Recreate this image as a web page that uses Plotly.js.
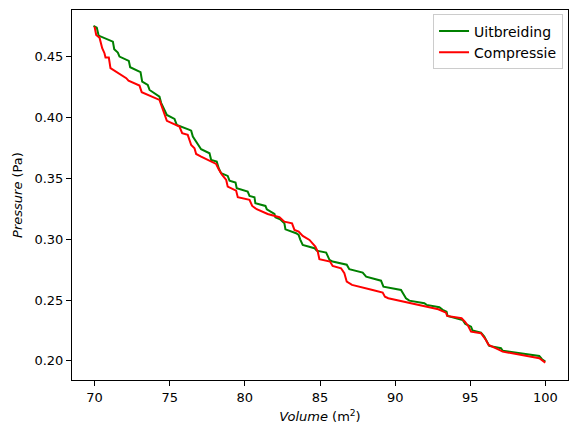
<!DOCTYPE html>
<html>
<head>
<meta charset="utf-8">
<script src="https://cdn.plot.ly/plotly-3.0.1.min.js"></script>
<style>
  body { margin: 0; background: #fff; }
  #plotlyChart { width: 578px; height: 438px; }
</style>
</head>
<body>
<div id="plotlyChart"></div>
<script>
// Uitbreiding (expansion)
let expVolume = [
  69.93, 70.15, 70.27, 71.22, 71.31, 71.55, 71.66, 72.28, 72.37, 73.06,
  73.17, 73.54, 73.66, 74.32, 74.43, 74.81, 75.32, 75.47, 76.32, 76.43,
  76.54, 76.98, 77.09, 77.65, 77.76, 78.13, 78.26, 78.42, 78.86, 78.98,
  79.38, 79.46, 80.19, 80.31, 80.64, 80.70, 81.37, 81.46, 81.97, 82.03,
  82.35, 82.63, 82.70, 83.41, 83.58, 83.68, 83.85, 84.63, 84.78, 85.41,
  85.63, 85.84, 86.78, 86.95, 87.84, 88.07, 89.06, 89.22, 89.50, 90.39,
  90.55, 90.72, 90.94, 91.94, 92.09, 92.94, 93.16, 93.42, 93.49, 94.49,
  94.67, 95.05, 95.15, 95.71, 95.93, 96.15, 96.26, 97.04, 97.15, 99.59,
  99.77, 99.99,
];
let expPressure = [
  0.4752, 0.4738, 0.4673, 0.4623, 0.4561, 0.4533, 0.4500, 0.4465, 0.4413, 0.4372,
  0.4295, 0.4267, 0.4226, 0.4171, 0.4120, 0.4021, 0.3988, 0.3939, 0.3898, 0.3892,
  0.3843, 0.3760, 0.3739, 0.3706, 0.3651, 0.3637, 0.3583, 0.3542, 0.3520, 0.3481,
  0.3465, 0.3419, 0.3391, 0.3355, 0.3345, 0.3295, 0.3273, 0.3246, 0.3207, 0.3180,
  0.3163, 0.3130, 0.3081, 0.3049, 0.3035, 0.2999, 0.2953, 0.2926, 0.2906, 0.2890,
  0.2830, 0.2816, 0.2790, 0.2753, 0.2725, 0.2692, 0.2659, 0.2610, 0.2605, 0.2583,
  0.2550, 0.2515, 0.2495, 0.2474, 0.2460, 0.2441, 0.2419, 0.2405, 0.2369, 0.2336,
  0.2303, 0.2281, 0.2249, 0.2232, 0.2199, 0.2145, 0.2123, 0.2104, 0.2084, 0.2041,
  0.2014, 0.1994,
];

// Compressie
let compVolume = [
  70.00, 70.11, 70.33, 70.51, 70.66, 70.73, 70.95, 71.06, 72.11, 72.26,
  72.99, 73.14, 74.32, 74.59, 74.81, 75.65, 75.83, 76.20, 76.43, 76.65,
  76.76, 77.09, 77.65, 78.09, 78.26, 78.49, 78.76, 78.86, 79.42, 79.53,
  80.31, 80.49, 80.79, 81.52, 82.30, 82.63, 83.14, 83.30, 83.58, 83.85,
  84.30, 84.47, 84.69, 84.85, 84.96, 85.67, 85.84, 86.40, 86.62, 86.78,
  87.13, 88.50, 89.17, 89.32, 89.54, 92.87, 93.10, 93.38, 93.46, 94.42,
  94.64, 94.86, 95.05, 95.71, 96.04, 96.22, 96.93, 97.15, 99.59, 99.81,
  99.99,
];
let compPressure = [
  0.4747, 0.4678, 0.4656, 0.4569, 0.4528, 0.4492, 0.4492, 0.4405, 0.4323, 0.4303,
  0.4262, 0.4207, 0.4144, 0.4048, 0.3972, 0.3925, 0.3871, 0.3857, 0.3774, 0.3747,
  0.3700, 0.3678, 0.3645, 0.3618, 0.3575, 0.3528, 0.3487, 0.3432, 0.3399, 0.3345,
  0.3323, 0.3273, 0.3246, 0.3207, 0.3180, 0.3144, 0.3130, 0.3076, 0.3062, 0.3027,
  0.2994, 0.2967, 0.2939, 0.2898, 0.2835, 0.2816, 0.2780, 0.2761, 0.2720, 0.2651,
  0.2624, 0.2583, 0.2561, 0.2528, 0.2515, 0.2424, 0.2413, 0.2396, 0.2369, 0.2350,
  0.2322, 0.2287, 0.2240, 0.2227, 0.2172, 0.2131, 0.2090, 0.2076, 0.2022, 0.2003,
  0.1986,
];

let font = { family: 'DejaVu Sans', size: 13, color: '#000' };
let axis = {
  showline: true,
  mirror: true,
  linecolor: '#000',
  linewidth: 1,
  ticks: 'outside',
  ticklen: 5,
  tickcolor: '#000',
  showgrid: false,
  zeroline: false,
  tickfont: font,
};

let data = [
  {
    x: expVolume,
    y: expPressure,
    type: 'scatter',
    mode: 'lines',
    line: { color: '#008000', width: 2 },
    name: 'Uitbreiding',
  },
  {
    x: compVolume,
    y: compPressure,
    type: 'scatter',
    mode: 'lines',
    line: { color: '#ff0000', width: 2 },
    name: 'Compressie',
  },
];

Plotly.newPlot(
  'plotlyChart',
  data,
  {
    width: 578,
    height: 438,
    paper_bgcolor: '#fff',
    plot_bgcolor: '#fff',
    font: font,
    margin: { t: 10, r: 10, b: 58, l: 72 },
    xaxis: {
      ...axis,
      range: [68.5, 101.5],
      dtick: 5,
      title: { text: '<i>Volume</i> (m<sup>2</sup>)', font: font, standoff: 8 },
    },
    yaxis: {
      ...axis,
      range: [0.1843, 0.4883],
      dtick: 0.05,
      tickformat: '.2f',
      title: { text: '<i>Pressure</i> (Pa)', font: font, standoff: 8 },
    },
    showlegend: true,
    legend: {
      x: 0.99,
      y: 0.988,
      xanchor: 'right',
      yanchor: 'top',
      bgcolor: 'rgba(255,255,255,0.8)',
      bordercolor: '#cccccc',
      borderwidth: 1,
      tracegroupgap: 2,
      font: { ...font, size: 14 },
    },
  },
  { staticPlot: true }
);
</script>
</body>
</html>
